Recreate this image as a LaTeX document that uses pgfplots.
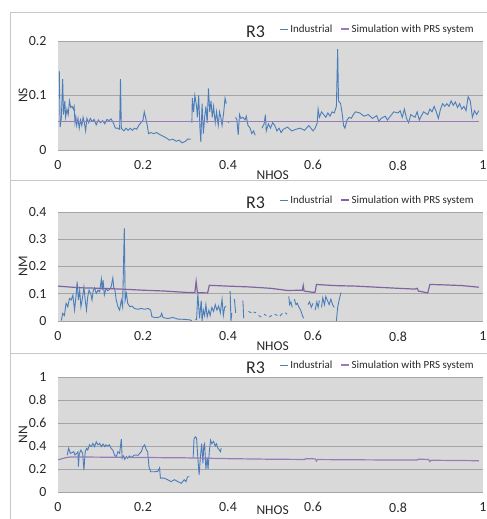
\documentclass[border=0pt]{standalone}
\usepackage{fontspec}
\setmainfont{Carlito}
\usepackage{pgfplots}
\usepackage{pgfplotstable}
\pgfplotsset{compat=1.18}
\definecolor{indblue}{RGB}{74,126,187}
\definecolor{simpurple}{RGB}{128,100,162}
\definecolor{simlight}{RGB}{150,125,185}
\definecolor{plotbg}{RGB}{217,217,217}
\definecolor{gridc}{RGB}{165,165,165}
\definecolor{framec}{RGB}{200,200,200}
\definecolor{txt}{RGB}{40,40,40}

\pgfplotstableread{
x y
0.003 0.145
0.005 0.042
0.008 0.06
0.011 0.13
0.013 0.065
0.016 0.09
0.018 0.06
0.021 0.075
0.024 0.065
0.027 0.09
0.030 0.078
0.033 0.08
0.036 0.075
0.038 0.08
0.040 0.05
0.042 0.06
0.044 0.045
0.047 0.058
0.050 0.04
0.053 0.055
0.056 0.045
0.059 0.06
0.062 0.05
0.065 0.035
0.068 0.058
0.072 0.05
0.076 0.058
0.080 0.052
0.085 0.056
0.090 0.046
0.095 0.055
0.100 0.05
0.105 0.054
0.110 0.048
0.115 0.056
0.120 0.054
0.125 0.057
0.130 0.05
0.135 0.04
0.140 0.04
0.145 0.038
0.147 0.13
0.149 0.04
0.155 0.035
0.160 0.04
0.165 0.036
0.170 0.04
0.175 0.036
0.180 0.04
0.185 0.038
0.190 0.045
0.195 0.05
0.200 0.055
0.203 0.07
0.206 0.06
0.210 0.045
0.213 0.03
0.218 0.032
0.225 0.03
0.232 0.032
0.240 0.028
0.248 0.025
0.255 0.022
0.262 0.018
0.270 0.02
0.278 0.016
0.285 0.018
0.292 0.013
0.300 0.016
0.305 0.02
0.312 0.02
0.313 nan
0.315 0.05
0.316 0.095
0.319 0.07
0.322 0.1
0.326 0.08
0.328 0.06
0.331 0.1
0.334 0.04
0.336 0.015
0.339 0.085
0.342 0.03
0.345 0.06
0.348 0.08
0.351 0.05
0.354 0.113
0.357 0.07
0.360 0.09
0.363 0.06
0.366 0.08
0.370 0.05
0.373 0.07
0.377 0.045
0.380 0.07
0.383 0.06
0.386 0.045
0.390 0.07
0.393 0.095
0.396 0.085
0.397 nan
0.400 0.052
0.402 0.05
0.403 nan
0.418 0.06
0.421 0.055
0.424 0.028
0.427 0.065
0.430 0.058
0.435 0.06
0.440 0.055
0.443 0.062
0.447 0.045
0.452 0.04
0.456 0.03
0.460 0.035
0.464 0.027
0.465 nan
0.480 0.04
0.485 0.048
0.488 0.065
0.490 0.035
0.495 0.048
0.500 0.04
0.505 0.05
0.510 0.045
0.515 0.035
0.520 0.04
0.525 0.032
0.530 0.038
0.540 0.042
0.550 0.035
0.560 0.038
0.570 0.04
0.580 0.036
0.590 0.045
0.600 0.035
0.605 0.04
0.610 0.05
0.612 0.075
0.615 0.06
0.620 0.07
0.625 0.065
0.630 0.06
0.635 0.068
0.640 0.062
0.645 0.07
0.650 0.068
0.655 0.08
0.658 0.185
0.660 0.09
0.665 0.085
0.668 0.07
0.672 0.045
0.675 0.04
0.680 0.055
0.685 0.06
0.690 0.058
0.695 0.065
0.700 0.07
0.710 0.068
0.720 0.062
0.730 0.065
0.740 0.058
0.750 0.063
0.755 0.052
0.760 0.058
0.770 0.062
0.775 0.055
0.780 0.06
0.790 0.07
0.800 0.068
0.805 0.072
0.810 0.06
0.815 0.075
0.820 0.058
0.825 0.05
0.830 0.065
0.840 0.06
0.845 0.07
0.850 0.055
0.860 0.07
0.870 0.065
0.875 0.075
0.880 0.07
0.885 0.08
0.890 0.07
0.895 0.058
0.900 0.075
0.905 0.085
0.910 0.08
0.915 0.085
0.920 0.08
0.925 0.09
0.930 0.082
0.935 0.088
0.940 0.078
0.945 0.085
0.950 0.075
0.955 0.08
0.960 0.072
0.965 0.098
0.970 0.09
0.975 0.06
0.980 0.072
0.985 0.065
0.990 0.072
}\nsind

\pgfplotstableread{
x y
0.000 0.052
0.990 0.052
}\nssim

\pgfplotstableread{
x y
0.008 0.002
0.011 0.028
0.015 0.02
0.019 0.065
0.023 0.052
0.027 0.083
0.031 0.077
0.035 0.095
0.039 0.04
0.043 0.101
0.045 0.144
0.048 0.077
0.051 0.113
0.054 0.052
0.058 0.089
0.061 0.125
0.064 0.077
0.067 0.04
0.070 0.089
0.073 0.113
0.077 0.101
0.080 0.077
0.083 0.113
0.086 0.122
0.090 0.101
0.094 0.113
0.098 0.107
0.102 0.154
0.104 0.113
0.106 0.15
0.109 0.095
0.113 0.119
0.117 0.111
0.121 0.116
0.125 0.125
0.129 0.158
0.131 0.125
0.134 0.113
0.137 0.077
0.141 0.052
0.145 0.04
0.149 0.077
0.152 0.052
0.156 0.34
0.158 0.077
0.161 0.101
0.164 0.065
0.169 0.052
0.174 0.055
0.180 0.046
0.188 0.043
0.196 0.046
0.204 0.043
0.212 0.046
0.218 0.04
0.221 0.016
0.227 0.013
0.235 0.013
0.241 0.016
0.244 0.028
0.247 0.013
0.258 0.009
0.270 0.013
0.282 0.007
0.297 0.006
0.311 0.004
0.315 0.0
0.318 nan
0.323 0.005
0.326 0.005
0.329 0.1
0.333 0.01
0.337 0.075
0.339 0.0
0.342 0.04
0.345 0.02
0.348 0.06
0.351 0.015
0.355 0.04
0.358 0.02
0.362 0.05
0.366 0.035
0.370 0.06
0.374 0.04
0.378 0.055
0.382 0.03
0.386 0.08
0.389 0.02
0.392 0.05
0.395 0.055
0.398 nan
0.405 0.11
0.407 0.0
0.409 0.03
0.410 nan
0.415 0.08
0.418 0.03
0.420 nan
0.435 0.075
0.437 0.01
0.440 nan
0.448 0.035
0.455 0.03
0.457 nan
0.460 0.033
0.466 0.03
0.468 nan
0.472 0.02
0.478 0.015
0.480 nan
0.485 0.025
0.490 0.02
0.492 nan
0.497 0.015
0.503 0.02
0.505 nan
0.510 0.025
0.516 0.02
0.518 nan
0.522 0.018
0.528 0.028
0.530 nan
0.535 0.03
0.539 0.025
0.541 nan
0.543 0.09
0.545 0.06
0.548 0.07
0.551 0.05
0.553 nan
0.556 0.08
0.560 0.06
0.563 0.065
0.567 0.05
0.571 0.04
0.575 0.02
0.578 0.01
0.580 nan
0.588 0.06
0.592 0.07
0.596 0.05
0.600 0.065
0.602 nan
0.605 0.04
0.609 0.07
0.612 0.05
0.615 0.075
0.617 nan
0.620 0.05
0.623 0.085
0.627 0.06
0.630 0.09
0.634 0.075
0.638 0.06
0.642 0.08
0.646 0.06
0.650 0.05
0.652 nan
0.655 0.0
0.658 0.05
0.662 0.08
0.666 0.105
}\nmind

\pgfplotstableread{
x y
0.000 0.128
0.050 0.122
0.100 0.120
0.150 0.117
0.200 0.113
0.250 0.110
0.300 0.105
0.322 0.104
0.325 0.145
0.328 0.104
0.352 0.103
0.356 0.131
0.400 0.128
0.450 0.125
0.500 0.120
0.540 0.112
0.575 0.113
0.577 0.130
0.579 0.110
0.600 0.105
0.605 0.106
0.608 0.134
0.650 0.130
0.700 0.128
0.750 0.124
0.800 0.120
0.840 0.117
0.845 0.120
0.848 0.110
0.870 0.103
0.875 0.134
0.900 0.133
0.950 0.130
0.990 0.124
}\nmsim

\pgfplotstableread{
x y
0.0216 0.32
0.025 0.38
0.029 0.336
0.033 0.342
0.037 0.35
0.040 0.322
0.044 0.336
0.047 0.35
0.048 0.22
0.050 0.33
0.054 0.365
0.058 0.336
0.061 0.191
0.064 0.35
0.067 0.38
0.070 0.365
0.074 0.41
0.078 0.394
0.082 0.423
0.086 0.394
0.090 0.437
0.094 0.41
0.098 0.423
0.102 0.394
0.106 0.417
0.110 0.394
0.113 0.41
0.117 0.40
0.121 0.41
0.125 0.38
0.129 0.365
0.133 0.322
0.137 0.307
0.141 0.35
0.145 0.336
0.149 0.46
0.151 0.293
0.154 0.313
0.157 0.284
0.161 0.307
0.164 0.293
0.168 0.313
0.172 0.30
0.180 0.322
0.188 0.319
0.196 0.35
0.200 0.394
0.204 0.41
0.208 0.365
0.211 0.35
0.214 0.22
0.218 0.176
0.227 0.176
0.235 0.18
0.239 0.21
0.241 0.12
0.250 0.12
0.258 0.107
0.266 0.09
0.274 0.107
0.282 0.09
0.290 0.075
0.297 0.107
0.301 0.09
0.305 0.133
0.309 0.133
0.313 nan
0.318 0.30
0.320 0.46
0.323 0.48
0.326 0.47
0.329 0.30
0.332 0.15
0.335 0.30
0.338 0.42
0.341 0.25
0.343 0.40
0.345 0.42
0.348 0.20
0.351 0.30
0.353 0.20
0.356 0.35
0.359 0.45
0.362 0.42
0.366 0.44
0.370 0.40
0.373 0.42
0.376 0.38
0.379 0.37
0.382 0.35
0.384 0.38
}\nnind

\pgfplotstableread{
x y
0.000 0.280
0.010 0.290
0.020 0.300
0.030 0.305
0.100 0.303
0.200 0.300
0.300 0.297
0.400 0.290
0.500 0.285
0.580 0.283
0.583 0.290
0.605 0.288
0.608 0.270
0.610 0.282
0.700 0.280
0.800 0.278
0.845 0.278
0.848 0.285
0.872 0.283
0.875 0.265
0.878 0.276
0.990 0.272
}\nnsim

\pgfplotsset{panel/.style={
  scale only axis, width=425bp,
  xmin=0, xmax=1, ymin=0,
  axis line style={draw=none},
  axis background/.style={fill=plotbg},
  ymajorgrids, major grid style={gridc, line width=0.7bp},
  tick style={draw=none},
  xtick={0,0.2,0.4,0.6,0.8,1},
  xticklabels={0,0.2,0.4,0.6,0.8,1},
  ticklabel style={font=\fontsize{14}{15}\selectfont, text=txt},
  xticklabel style={yshift=-7bp},
  yticklabel style={xshift=-8bp},
  title=R3,
  title style={at={(axis description cs:0.465,1)}, anchor=base, yshift=-2bp, font=\fontsize{18}{20}\selectfont, text=txt},
  xlabel=NHOS,
  xlabel style={at={(axis description cs:0.505,0)}, anchor=center, yshift=-25bp, font=\fontsize{13.5}{15}\selectfont, text=txt},
  ylabel style={at={(axis description cs:-0.082,0.5)}, anchor=center, font=\fontsize{13.5}{15}\selectfont, text=txt},
  legend style={at={(axis description cs:0.99,1)}, anchor=east, yshift=12bp, draw=none, fill=none,
    font=\fontsize{11}{12}\selectfont, text=txt, legend columns=2,
    /tikz/every even column/.append style={column sep=6bp}},
  legend image code/.code={\draw[#1] (0bp,0bp) -- (8bp,0bp);},
  unbounded coords=jump,
  ind/.style={indblue, line width=0.9bp},
  sim/.style={simpurple, line width=1.2bp},
  siml/.style={simlight, line width=1.2bp},
}}

\begin{document}
\begin{tikzpicture}[x=1bp,y=1bp]
\useasboundingbox (0,0) rectangle (487,519);
\draw[framec, line width=0.8bp] (10,507) -- (10,-5);
\draw[framec, line width=0.8bp] (10,507) -- (495,507);
\draw[framec, line width=0.8bp] (10,339) -- (495,339);
\draw[framec, line width=0.8bp] (10,166) -- (495,166);

\begin{axis}[panel, at={(58bp,369bp)}, anchor=south west, height=109bp,
  ymax=0.2, ytick={0,0.1,0.2}, yticklabels={0,0.1,0.2}, ylabel=NS]
\addplot[ind] table[x=x,y=y] {\nsind};
\addlegendentry{Industrial}
\addplot[siml] table[x=x,y=y] {\nssim};
\addlegendentry{Simulation with PRS system}
\end{axis}

\begin{axis}[panel, at={(58bp,198bp)}, anchor=south west, height=109bp,
  ymax=0.4, ytick={0,0.1,0.2,0.3,0.4}, yticklabels={0,0.1,0.2,0.3,0.4}, ylabel=NM]
\addplot[ind] table[x=x,y=y] {\nmind};
\addlegendentry{Industrial}
\addplot[sim] table[x=x,y=y] {\nmsim};
\addlegendentry{Simulation with PRS system}
\end{axis}

\begin{axis}[panel, at={(58bp,27bp)}, anchor=south west, height=115bp,
  ymax=1, ytick={0,0.2,0.4,0.6,0.8,1}, yticklabels={0,0.2,0.4,0.6,0.8,1}, ylabel=NN,
  xlabel style={yshift=7bp}]
\addplot[ind] table[x=x,y=y] {\nnind};
\addlegendentry{Industrial}
\addplot[siml] table[x=x,y=y] {\nnsim};
\addlegendentry{Simulation with PRS system}
\end{axis}
\end{tikzpicture}
\end{document}
